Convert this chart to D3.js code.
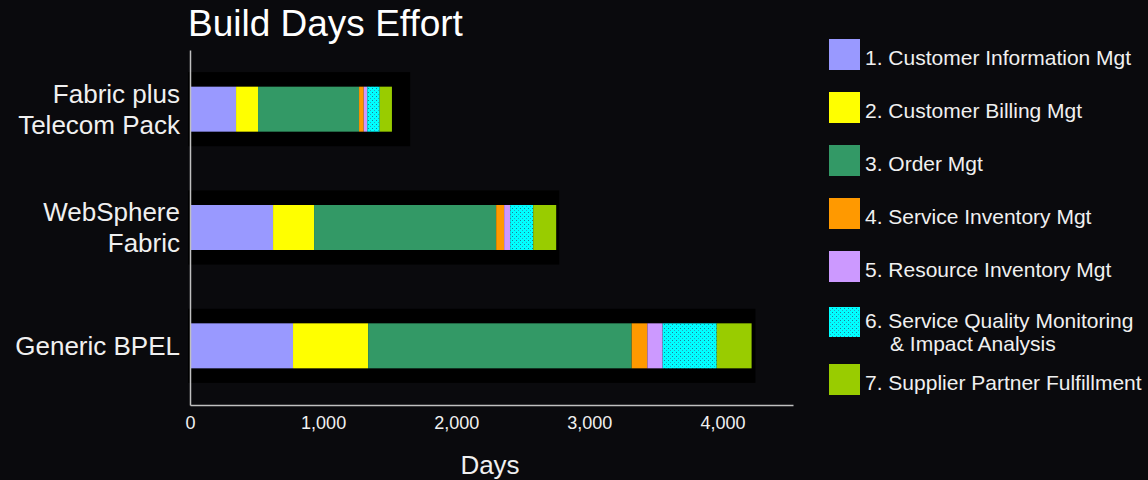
<!DOCTYPE html>
<html>
<head>
<meta charset="utf-8">
<script src="https://cdn.jsdelivr.net/npm/d3@7"></script>
<style>
  html, body { margin: 0; padding: 0; background: #0a0a0d; }
  svg { display: block; font-family: "Liberation Sans", Arial, sans-serif; }
</style>
</head>
<body>
<svg id="svg-main" width="1148" height="480"></svg>
<script>
// rows, top to bottom
var categories = ["Fabric plus\nTelecom Pack", "WebSphere\nFabric", "Generic BPEL"];

var seriesNames = [
    "1. Customer Information Mgt",
    "2. Customer Billing Mgt",
    "3. Order Mgt",
    "4. Service Inventory Mgt",
    "5. Resource Inventory Mgt",
    "6. Service Quality Monitoring\n& Impact Analysis",
    "7. Supplier Partner Fulfillment"
];

// days per category, one list per series
var customerInfo    = [346, 624, 774];
var customerBilling = [165, 308, 564];
var orderMgt        = [759, 1368, 1980];
var serviceInv      = [35, 60, 118];
var resourceInv     = [27, 45, 115];
var serviceQuality  = [93, 173, 406];
var supplierPartner = [92, 173, 262];

// the black band behind each bar
var envelope = [1654, 2774, 4248];

var tickValues = [0, 1000, 2000, 3000, 4000];

var seriesValues = [customerInfo, customerBilling, orderMgt, serviceInv,
                    resourceInv, serviceQuality, supplierPartner];
var colors = ["#9999ff", "#ffff00", "#339966", "#ff9900", "#cc99ff",
              "url(#dots)", "#99cc00"];

var svg = d3.select("#svg-main");

// dotted cyan fill for series 6
var pat = svg.append("defs").append("pattern")
    .attr("id", "dots")
    .attr("patternUnits", "userSpaceOnUse")
    .attr("width", 4)
    .attr("height", 4);
pat.append("rect").attr("width", 4).attr("height", 4).attr("fill", "#00ffff");
pat.append("rect").attr("x", 0).attr("y", 0).attr("width", 1).attr("height", 1).attr("fill", "#1a7f9a");
pat.append("rect").attr("x", 2).attr("y", 2).attr("width", 1).attr("height", 1).attr("fill", "#2aa6c0");

var x = d3.scaleLinear().domain([0, 4530]).range([190, 793]);
var y = d3.scaleBand().domain(categories).range([50, 405])
    .paddingInner(0.374).paddingOuter(0.187);

// title
svg.append("text")
    .attr("x", 188)
    .attr("y", 36)
    .attr("fill", "#ffffff")
    .style("font-size", "37px")
    .text("Build Days Effort");

// black envelopes
svg.append("g").selectAll("rect")
    .data(categories)
    .enter()
    .append("rect")
    .attr("x", x(0) - 2)
    .attr("y", function(d) { return y(d); })
    .attr("width", function(d, i) { return x(envelope[i]) - x(0) + 2; })
    .attr("height", y.bandwidth())
    .attr("fill", "#000000");

// stacked bars
var table = categories.map(function(c, i) {
    var row = { cat: c };
    seriesValues.forEach(function(s, k) { row["s" + k] = s[i]; });
    return row;
});
var keys = seriesValues.map(function(s, k) { return "s" + k; });
var stacked = d3.stack().keys(keys)(table);

var barH = 45;
svg.append("g").selectAll("g")
    .data(stacked)
    .enter()
    .append("g")
    .attr("fill", function(d, k) { return colors[k]; })
    .selectAll("rect")
    .data(function(d) { return d; })
    .enter()
    .append("rect")
    .attr("x", function(d) { return x(d[0]); })
    .attr("y", function(d) { return y(d.data.cat) + (y.bandwidth() - barH) / 2; })
    .attr("width", function(d) { return x(d[1]) - x(d[0]); })
    .attr("height", barH);

// axes
var xAxis = svg.append("g")
    .attr("transform", "translate(0,405)")
    .call(d3.axisBottom(x).tickValues(tickValues).tickSize(0).tickPadding(11)
        .tickFormat(d3.format(",")));
xAxis.select(".domain").attr("stroke", "#c0c0c0").attr("stroke-width", 1.5);
xAxis.selectAll("text")
    .attr("fill", "#f0f0f0")
    .style("font-size", "18px")
    .style("font-family", "'Liberation Sans', Arial, sans-serif");

var yAxis = svg.append("g")
    .attr("transform", "translate(190,0)")
    .call(d3.axisLeft(y).tickSize(0).tickPadding(10));
yAxis.select(".domain").attr("stroke", "#c0c0c0").attr("stroke-width", 1.5);
yAxis.selectAll("text").each(function(d) {
    var t = d3.select(this);
    var lines = d.split("\n");
    t.text(null)
        .attr("fill", "#f0f0f0")
        .attr("dy", null)
        .style("font-size", "26px")
        .style("font-family", "'Liberation Sans', Arial, sans-serif");
    lines.forEach(function(line, j) {
        t.append("tspan")
            .attr("x", -10)
            .attr("y", 0)
            .attr("dy", (9 + (j - (lines.length - 1) / 2) * 31) + "px")
            .text(line);
    });
});

// x label
svg.append("text")
    .attr("x", 490)
    .attr("y", 474)
    .attr("text-anchor", "middle")
    .attr("fill", "#f0f0f0")
    .style("font-size", "26px")
    .text("Days");

// legend
var legend = svg.append("g");
var legendY = 39;
seriesNames.forEach(function(name, k) {
    var lines = name.split("\n");
    if (lines.length > 1) legendY += 3;
    legend.append("rect")
        .attr("x", 829)
        .attr("y", legendY)
        .attr("width", 31)
        .attr("height", lines.length > 1 ? 30 : 31)
        .attr("fill", colors[k]);
    var t = legend.append("text")
        .attr("fill", "#f0f0f0")
        .style("font-size", "21px");
    lines.forEach(function(line, j) {
        t.append("tspan")
            .attr("x", j == 0 ? 865 : 890)
            .attr("y", lines.length > 1 ? legendY + 21 + j * 23 : legendY + 26)
            .text(line);
    });
    legendY += 53 + (lines.length > 1 ? 4 : 0);
});
</script>
</body>
</html>
